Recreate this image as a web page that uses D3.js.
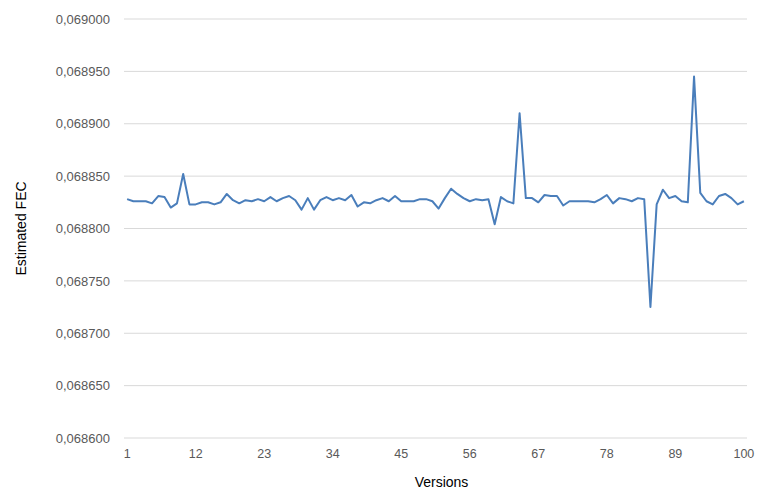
<!DOCTYPE html>
<html>
<head>
<meta charset="utf-8">
<script src="https://cdn.jsdelivr.net/npm/d3@7"></script>
<style>
  html, body { margin: 0; padding: 0; background: #fff; }
  svg { display: block; }
</style>
</head>
<body>
<svg id="chart" width="759" height="495"></svg>
<script>
const versions = d3.range(1, 101);
const fecValues = [
  0.068828, 0.068826, 0.068826, 0.068826, 0.068824, 0.068831, 0.068830, 0.068820, 0.068824, 0.068852,
  0.068823, 0.068823, 0.068825, 0.068825, 0.068823, 0.068825, 0.068833, 0.068827, 0.068824, 0.068827,
  0.068826, 0.068828, 0.068826, 0.068830, 0.068826, 0.068829, 0.068831, 0.068827, 0.068818, 0.068829,
  0.068818, 0.068827, 0.068830, 0.068827, 0.068829, 0.068827, 0.068832, 0.068821, 0.068825, 0.068824,
  0.068827, 0.068829, 0.068826, 0.068831, 0.068826, 0.068826, 0.068826, 0.068828, 0.068828, 0.068826,
  0.068819, 0.068829, 0.068838, 0.068833, 0.068829, 0.068826, 0.068828, 0.068827, 0.068828, 0.068804,
  0.068830, 0.068826, 0.068824, 0.068910, 0.068829, 0.068829, 0.068825, 0.068832, 0.068831, 0.068831,
  0.068822, 0.068826, 0.068826, 0.068826, 0.068826, 0.068825, 0.068828, 0.068832, 0.068824, 0.068829,
  0.068828, 0.068826, 0.068829, 0.068828, 0.068725, 0.068823, 0.068837, 0.068829, 0.068831, 0.068826,
  0.068825, 0.068945, 0.068834, 0.068826, 0.068823, 0.068831, 0.068833, 0.068829, 0.068823, 0.068826
];
const xTickLabels = [1, 12, 23, 34, 45, 56, 67, 78, 89, 100];
const yTickValues = [0.0686, 0.06865, 0.0687, 0.06875, 0.0688, 0.06885, 0.0689, 0.06895, 0.069];

const svg = d3.select("#chart");
const margin = { left: 124, right: 12, top: 19, bottom: 57 };
const W = 759, H = 495;
const plotL = margin.left, plotR = W - margin.right;
const plotT = margin.top, plotB = H - margin.bottom;

const x = d3.scaleBand().domain(versions).range([plotL, plotR]).paddingInner(0).paddingOuter(0);
const xc = v => x(v) + x.bandwidth() / 2;
const y = d3.scaleLinear().domain([0.0686, 0.069]).range([plotB, plotT]);

const font = "'Liberation Sans', Arial, sans-serif";

// gridlines
svg.append("g").selectAll("line").data(yTickValues).join("line")
  .attr("x1", plotL).attr("x2", plotR)
  .attr("y1", d => y(d)).attr("y2", d => y(d))
  .attr("stroke", "#d9d9d9").attr("stroke-width", 1);

// y axis labels
const fmt = d => d.toFixed(6).replace(".", ",");
const yAxis = d3.axisLeft(y).tickValues(yTickValues).tickFormat(fmt).tickSize(0).tickPadding(14);
const gy = svg.append("g").attr("transform", `translate(${plotL},0)`).call(yAxis);
gy.select(".domain").remove();
gy.selectAll("text").attr("font-family", font).attr("font-size", 13).attr("fill", "#595959");

// x axis labels
const xAxis = d3.axisBottom(x).tickValues(xTickLabels).tickSize(0).tickPadding(11);
const gx = svg.append("g").attr("transform", `translate(0,${plotB})`).call(xAxis);
gx.select(".domain").remove();
gx.selectAll("text").attr("font-family", font).attr("font-size", 12.5).attr("fill", "#595959");

// line
const line = d3.line().x((d, i) => xc(versions[i])).y(d => y(d));
svg.append("path").datum(fecValues)
  .attr("d", line)
  .attr("fill", "none")
  .attr("stroke", "#4a7ebb")
  .attr("stroke-width", 2)
  .attr("stroke-linejoin", "round");

// axis titles
svg.append("text")
  .attr("x", (plotL + plotR) / 2 + 6).attr("y", 487)
  .attr("text-anchor", "middle")
  .attr("font-family", font).attr("font-size", 14).attr("fill", "#000")
  .text("Versions");

svg.append("text")
  .attr("transform", `translate(26,${(plotT + plotB) / 2}) rotate(-90)`)
  .attr("text-anchor", "middle")
  .attr("font-family", font).attr("font-size", 14).attr("fill", "#000")
  .text("Estimated FEC");
</script>
</body>
</html>
